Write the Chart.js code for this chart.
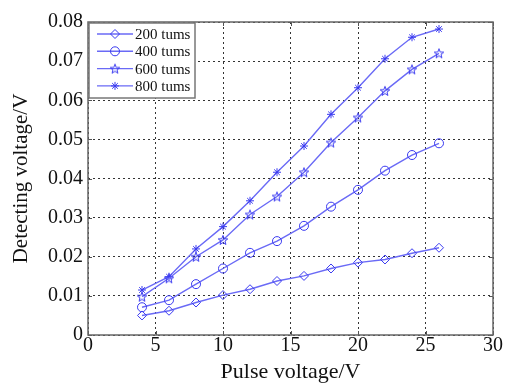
<!DOCTYPE html>
<html>
<head>
<meta charset="utf-8">
<script src="https://cdn.jsdelivr.net/npm/chart.js@4/dist/chart.umd.min.js"></script>
<style>
  html, body { margin: 0; padding: 0; background: #fff; }
  #wrap { width: 508px; height: 383px; }
</style>
</head>
<body>
<div id="wrap"><canvas id="myChart" width="508" height="383"></canvas></div>
<script>
var pulse = [4, 6, 8, 10, 12, 14, 16, 18, 20, 22, 24, 26];
var t200 = [0.0050, 0.0062, 0.0083, 0.0102, 0.0117, 0.0138, 0.0151, 0.0170, 0.0185, 0.0193, 0.0209, 0.0223];
var t400 = [0.0071, 0.0089, 0.0130, 0.0170, 0.0210, 0.0240, 0.0279, 0.0328, 0.0371, 0.0420, 0.0460, 0.0490];
var t600 = [0.0098, 0.0145, 0.0200, 0.0243, 0.0308, 0.0354, 0.0416, 0.0492, 0.0556, 0.0624, 0.0679, 0.0720];
var t800 = [0.0115, 0.0149, 0.0220, 0.0277, 0.0343, 0.0416, 0.0483, 0.0564, 0.0632, 0.0706, 0.0761, 0.0782];
var seriesNames = ['200 tums', '400 tums', '600 tums', '800 tums'];
var xTicks = [0, 5, 10, 15, 20, 25, 30];
var yTicks = [0, 0.01, 0.02, 0.03, 0.04, 0.05, 0.06, 0.07, 0.08];

var lineColor = '#6a6af6';
var markColor = '#3a3af0';
var serif = '"Liberation Serif", "Times New Roman", serif';

// pentagram marker (matlab 'p')
function makeStar(size) {
  var c = document.createElement('canvas');
  c.width = size; c.height = size;
  var g = c.getContext('2d');
  var cx = size / 2, cy = size / 2 + 0.5, ro = size / 2 - 1, ri = ro * 0.42;
  g.beginPath();
  for (var i = 0; i < 10; i++) {
    var r = i % 2 ? ri : ro;
    var a = -Math.PI / 2 + i * Math.PI / 5;
    var px = cx + r * Math.cos(a), py = cy + r * Math.sin(a);
    if (i == 0) g.moveTo(px, py); else g.lineTo(px, py);
  }
  g.closePath();
  g.strokeStyle = markColor;
  g.lineWidth = 1;
  g.stroke();
  return c;
}
var starImg = makeStar(12);

var styles = ['rectRot', 'circle', starImg, 'star'];
var radii = [4.5, 4.5, 5, 4];

function pts(arr) {
  return arr.map(function (v, i) { return { x: pulse[i], y: v }; });
}

var datasets = [t200, t400, t600, t800].map(function (arr, k) {
  return {
    label: seriesNames[k],
    data: pts(arr),
    borderColor: lineColor,
    borderWidth: 1.4,
    backgroundColor: 'rgba(0,0,0,0)',
    pointStyle: styles[k],
    pointRadius: radii[k],
    pointBorderColor: markColor,
    pointBorderWidth: 1,
    pointBackgroundColor: 'rgba(0,0,0,0)',
    tension: 0
  };
});

// box around the axes, inward ticks and the legend
var boxPlugin = {
  id: 'box',
  afterDraw: function (chart) {
    var a = chart.chartArea, ctx = chart.ctx;
    var xs = chart.scales.x, ys = chart.scales.y;
    ctx.save();
    ctx.strokeStyle = '#555';
    ctx.lineWidth = 1;
    ctx.beginPath();
    xTicks.forEach(function (t) {
      var px = Math.round(xs.getPixelForValue(t)) + 0.5;
      ctx.moveTo(px, a.bottom); ctx.lineTo(px, a.bottom - 4);
      ctx.moveTo(px, a.top); ctx.lineTo(px, a.top + 4);
    });
    yTicks.forEach(function (t) {
      var py = Math.round(ys.getPixelForValue(t)) + 0.5;
      ctx.moveTo(a.left, py); ctx.lineTo(a.left + 4, py);
      ctx.moveTo(a.right, py); ctx.lineTo(a.right - 4, py);
    });
    ctx.stroke();
    ctx.strokeStyle = '#666';
    ctx.lineWidth = 1.5;
    ctx.strokeRect(a.left, a.top, a.right - a.left, a.bottom - a.top);

    // legend
    var lx = a.left + 1, ly = a.top + 1, lw = 106, lh = 75;
    ctx.fillStyle = '#fff';
    ctx.fillRect(lx, ly, lw, lh);
    ctx.strokeStyle = '#777';
    ctx.lineWidth = 1.5;
    ctx.strokeRect(lx, ly, lw, lh);
    ctx.font = '15px ' + serif;
    ctx.textBaseline = 'middle';
    for (var k = 0; k < 4; k++) {
      var yy = ly + 11 + k * 17.3;
      ctx.strokeStyle = lineColor;
      ctx.lineWidth = 1.4;
      ctx.beginPath();
      ctx.moveTo(lx + 8, yy); ctx.lineTo(lx + 44, yy);
      ctx.stroke();
      ctx.strokeStyle = markColor;
      ctx.fillStyle = 'rgba(0,0,0,0)';
      ctx.lineWidth = 1;
      Chart.helpers.drawPoint(ctx, { pointStyle: styles[k], radius: radii[k], rotation: 0, borderWidth: 1 }, lx + 26, yy);
      ctx.fillStyle = '#111';
      ctx.fillText(seriesNames[k], lx + 46, yy + 1);
    }
    ctx.restore();
  }
};

var chart = new Chart(document.getElementById('myChart'), {
  type: 'line',
  data: { datasets: datasets },
  plugins: [boxPlugin],
  options: {
    responsive: false,
    animation: false,
    layout: { padding: { top: 22, right: 15, left: 0, bottom: 0 } },
    plugins: {
      legend: { display: false },
      tooltip: { enabled: false }
    },
    scales: {
      x: {
        type: 'linear',
        min: 0, max: 30,
        afterBuildTicks: function (s) { s.ticks = xTicks.map(function (v) { return { value: v }; }); },
        afterFit: function (s) { s.height = 48; },
        border: { display: false, dash: [2, 3] },
        grid: { color: '#333', lineWidth: 1, drawTicks: false, borderDash: [2, 3] },
        ticks: {
          color: '#111', padding: 1, maxRotation: 0,
          font: { family: serif, size: 20, lineHeight: 1.0 },
          callback: function (v) { return String(v); }
        },
        title: {
          display: true, text: 'Pulse voltage/V', color: '#111', padding: { top: 0, bottom: 0 },
          font: { family: serif, size: 22, lineHeight: 1.0 }
        }
      },
      y: {
        type: 'linear',
        min: 0, max: 0.08,
        afterBuildTicks: function (s) { s.ticks = yTicks.map(function (v) { return { value: v }; }); },
        afterFit: function (s) { s.width = 88; },
        border: { display: false, dash: [2, 3] },
        grid: { color: '#333', lineWidth: 1, drawTicks: false, borderDash: [2, 3] },
        ticks: {
          color: '#111', padding: 5,
          font: { family: serif, size: 20 },
          callback: function (v) { return v == 0 ? '0' : v.toFixed(2); }
        },
        title: {
          display: true, text: 'Detecting voltage/V', color: '#111', padding: { top: 11, bottom: 0 },
          font: { family: serif, size: 21, lineHeight: 1.0 }
        }
      }
    }
  }
});
</script>
</body>
</html>
